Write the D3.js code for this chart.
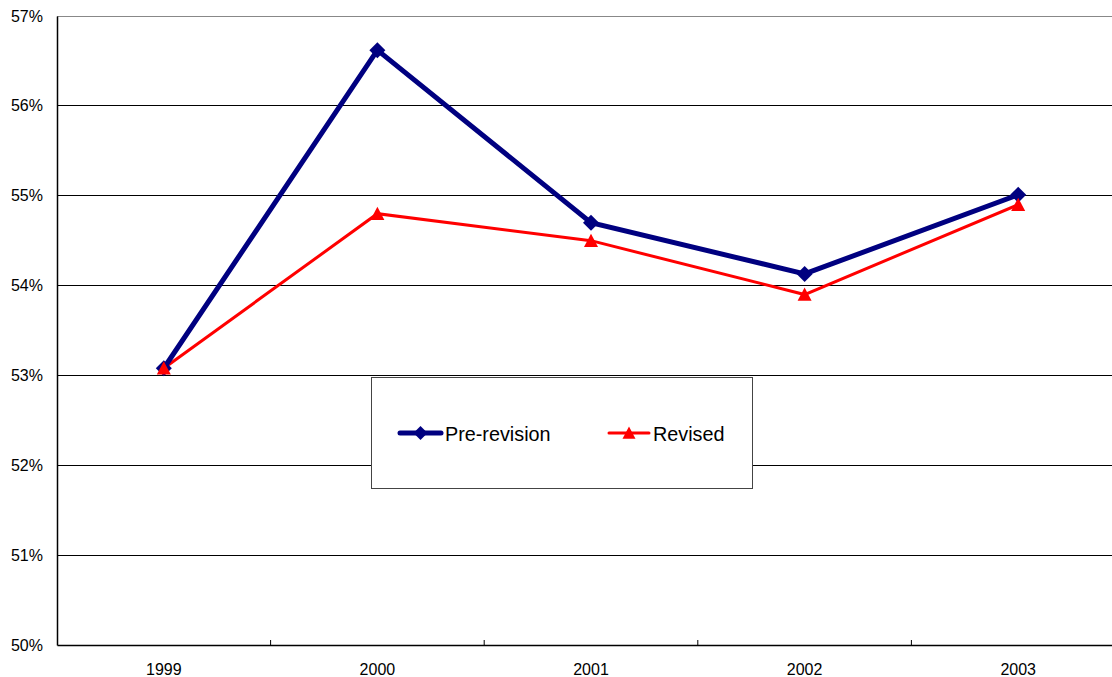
<!DOCTYPE html>
<html><head><meta charset="utf-8">
<script src="https://cdn.jsdelivr.net/npm/d3@7"></script>
<style>
html,body{margin:0;padding:0;background:#fff;}
svg{display:block;font-family:"Liberation Sans",Arial,Helvetica,sans-serif;}
</style></head>
<body>
<svg id="c" width="1112" height="677"></svg>
<script>
const years = ["1999","2000","2001","2002","2003"];
const preRevision = [53.08, 56.62, 54.70, 54.13, 55.01];
const revised = [53.08, 54.80, 54.50, 53.90, 54.90];
const yTicks = [50,51,52,53,54,55,56,57];
const seriesNames = ["Pre-revision","Revised"];

(function(){
const svg = d3.select("#c");
const pLeft = 57, pRight = 1125, pTop = 16, pBottom = 645;

const x = d3.scaleBand().domain(years).range([pLeft, pRight]).padding(0);
const y = d3.scaleLinear().domain([50,57]).range([pBottom, pTop]);

// gridlines
svg.append("g").selectAll("line").data(yTicks.filter(d=>d>50)).join("line")
  .attr("x1", pLeft).attr("x2", 1112)
  .attr("y1", d=>y(d)).attr("y2", d=>y(d))
  .attr("stroke", d=> d===57 ? "#888" : "#000").attr("stroke-width", 1)
  .attr("shape-rendering","crispEdges");

// y axis
const yAxis = svg.append("g").attr("transform",`translate(${pLeft},0)`)
  .call(d3.axisLeft(y).tickValues(yTicks).tickSize(0).tickPadding(14).tickFormat(d=>d+"%"));
yAxis.select(".domain").attr("stroke","#000").attr("stroke-width",1.5);
yAxis.selectAll("text").attr("font-size",16).attr("fill","#000")
  .attr("font-family","'Liberation Sans',Arial,sans-serif");

// x axis
const xAxis = svg.append("g").attr("transform",`translate(0,${pBottom})`)
  .call(d3.axisBottom(x).tickSize(0).tickPadding(19));
xAxis.select(".domain").attr("stroke","#000").attr("stroke-width",1.5);
xAxis.selectAll("text").attr("font-size",16).attr("fill","#000")
  .attr("font-family","'Liberation Sans',Arial,sans-serif");
// category boundary ticks (inside)
svg.append("g").selectAll("line").data(years.slice(1)).join("line")
  .attr("x1", d=>x(d)).attr("x2", d=>x(d))
  .attr("y1", pBottom).attr("y2", pBottom-5)
  .attr("stroke","#000").attr("stroke-width",1);

const cx = d => x(d) + x.bandwidth()/2;
const line = d3.line().x(d=>cx(d.year)).y(d=>y(d.v));

const preData = years.map((yr,i)=>({year:yr, v:preRevision[i]}));
const revData = years.map((yr,i)=>({year:yr, v:revised[i]}));

function diamondPath(s){ return `M0,${-s}L${s},0L0,${s}L${-s},0Z`; }
function triPath(s){ return `M0,${-s}L${s},${s*0.9}L${-s},${s*0.9}Z`; }

// revised line
svg.append("path").datum(revData).attr("d", line)
  .attr("fill","none").attr("stroke","#ff0000").attr("stroke-width",3).attr("stroke-linejoin","miter");
// pre-revision line
svg.append("path").datum(preData).attr("d", line)
  .attr("fill","none").attr("stroke","#000080").attr("stroke-width",5).attr("stroke-linejoin","miter");

svg.append("g").selectAll("path").data(preData).join("path")
  .attr("transform", d=>`translate(${cx(d.year)},${y(d.v)})`)
  .attr("d", diamondPath(8)).attr("fill","#000080");
svg.append("g").selectAll("path").data(revData).join("path")
  .attr("transform", d=>`translate(${cx(d.year)},${y(d.v)})`)
  .attr("d", triPath(7)).attr("fill","#ff0000");

// legend
const lg = svg.append("g");
lg.append("rect").attr("x",371.5).attr("y",377.5).attr("width",381).attr("height",111)
  .attr("fill","#fff").attr("stroke","#444").attr("stroke-width",1);
const items = [
  {name: seriesNames[0], color:"#000080", w:5, x0:400, x1:441, tx:445, mark:diamondPath(7)},
  {name: seriesNames[1], color:"#ff0000", w:3, x0:609, x1:649, tx:653, mark:triPath(6.5)}
];
items.forEach(it=>{
  lg.append("line").attr("x1",it.x0).attr("x2",it.x1).attr("y1",433).attr("y2",433)
    .attr("stroke",it.color).attr("stroke-width",it.w).attr("stroke-linecap","round");
  lg.append("path").attr("transform",`translate(${(it.x0+it.x1)/2},433)`).attr("d",it.mark).attr("fill",it.color);
  lg.append("text").attr("x",it.tx).attr("y",441).attr("font-size",19.8).attr("fill","#000").text(it.name);
});
})();
</script>
</body></html>
